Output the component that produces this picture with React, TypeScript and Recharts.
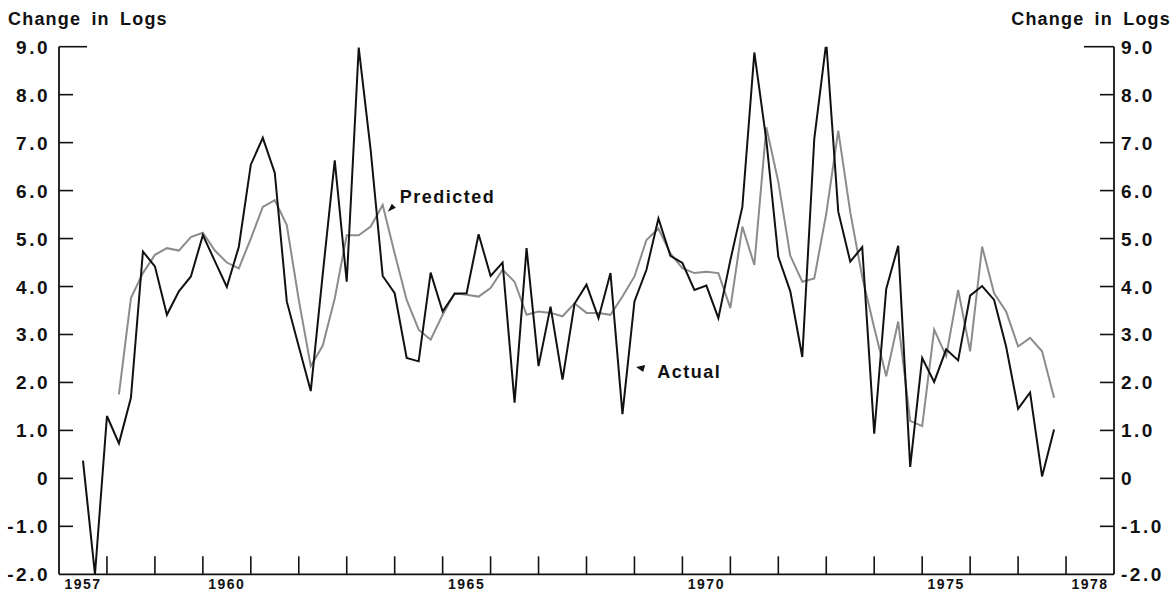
import { LineChart, Line, XAxis, YAxis, ReferenceDot } from 'recharts';

// quarterly observations, first actual point is 1957 Q3
const firstQuarter = 1957.5;
const predictedFirstQuarter = 1958.25;

const actual = [
  0.37, -2.0, 1.3, 0.73, 1.68, 4.73, 4.42, 3.41, 3.9, 4.21,
  5.07, 4.53, 3.99, 4.83, 6.54, 7.1, 6.37, 3.69, 2.75, 1.82,
  4.26, 6.63, 4.1, 8.98, 6.84, 4.22, 3.86, 2.51, 2.44, 4.29,
  3.48, 3.85, 3.86, 5.09, 4.22, 4.5, 1.58, 4.8, 2.34, 3.58,
  2.06, 3.64, 4.04, 3.34, 4.28, 1.34, 3.69, 4.35, 5.42, 4.64,
  4.49, 3.93, 4.02, 3.34, 4.55, 5.66, 8.88, 7.05, 4.62, 3.9,
  2.53, 7.08, 9.09, 5.56, 4.52, 4.82, 0.93, 3.95, 4.85, 0.24,
  2.51, 2.01, 2.69, 2.46, 3.81, 4.01, 3.72, 2.75, 1.45, 1.79,
  0.04, 1.02,
];

const predicted = [
  1.75, 3.76, 4.28, 4.66, 4.8, 4.75, 5.03, 5.12, 4.75, 4.5,
  4.38, 5.0, 5.66, 5.8, 5.28, 3.72, 2.34, 2.77, 3.75, 5.07,
  5.07, 5.25, 5.7, 4.69, 3.72, 3.1, 2.89, 3.41, 3.86, 3.83,
  3.79, 3.97, 4.35, 4.1, 3.41, 3.48, 3.45, 3.38, 3.65, 3.45,
  3.45, 3.41, 3.79, 4.21, 4.97, 5.21, 4.69, 4.38, 4.28, 4.31,
  4.28, 3.55, 5.25, 4.45, 7.32, 6.18, 4.64, 4.1, 4.17, 5.52,
  7.25, 5.55, 4.2, 3.14, 2.13, 3.27, 1.2, 1.09, 3.1, 2.55,
  3.93, 2.65, 4.83, 3.86, 3.48, 2.75, 2.93, 2.65, 1.68,
];

const yTicks = [-2, -1, 0, 1, 2, 3, 4, 5, 6, 7, 8, 9];
const yearTicks = [
  1957, 1958, 1959, 1960, 1961, 1962, 1963, 1964, 1965, 1966, 1967,
  1968, 1969, 1970, 1971, 1972, 1973, 1974, 1975, 1976, 1977, 1978,
];
const yearLabels = [1957, 1960, 1965, 1970, 1975, 1978];
const axisTitle = 'Change in Logs';

const data = actual.map((v, i) => {
  const t = firstQuarter + i * 0.25;
  const j = Math.round((t - predictedFirstQuarter) / 0.25);
  return { t, actual: v, predicted: j >= 0 && j < predicted.length ? predicted[j] : null };
});

const W = 1176;
const H = 592;
const LEFT_W = 59;
const RIGHT_W = 62;
const TOP = 46.7;
const X_H = 17.7;
const halfYear = (W - LEFT_W - RIGHT_W) / 22 / 2;
const font = '"Liberation Sans", Arial, Helvetica, sans-serif';
const ink = '#111';

const fmtY = (v: number) => (v === 0 ? '0' : v.toFixed(1));

const LeftTick = ({ x, y, payload }: any) => {
  const v = payload.value;
  return (
    <g>
      {v !== -2 && <line x1={x} x2={x + (v === 9 ? 28 : 14)} y1={y} y2={y} stroke={ink} strokeWidth={1.6} />}
      <text x={x - 9} y={y + 7} textAnchor="end" fontFamily={font} fontWeight={700} fontSize={19} letterSpacing={2.5} fill={ink}>
        {fmtY(v)}
      </text>
    </g>
  );
};

const RightTick = ({ x, y, payload }: any) => {
  const v = payload.value;
  return (
    <g>
      {v !== -2 && <line x1={x - (v === 9 ? 30 : 14)} x2={x} y1={y} y2={y} stroke={ink} strokeWidth={1.6} />}
      <text x={x + 7} y={y + 7} textAnchor="start" fontFamily={font} fontWeight={700} fontSize={19} letterSpacing={2.5} fill={ink}>
        {fmtY(v)}
      </text>
    </g>
  );
};

const YearTick = ({ x, y, payload }: any) => {
  const v = payload.value;
  return (
    <g>
      {v > 1957 && <line x1={x} x2={x} y1={y} y2={y - 18} stroke={ink} strokeWidth={1.6} />}
      {yearLabels.includes(v) && (
        <text x={x + halfYear} y={y + 15} textAnchor="middle" fontFamily={font} fontWeight={700} fontSize={14} letterSpacing={1.5} fill={ink}>
          {v}
        </text>
      )}
    </g>
  );
};

const title = (side: 'left' | 'right') => ({ viewBox }: any) => (
  <text
    x={side === 'left' ? 8 : viewBox.x + viewBox.width - 5}
    y={viewBox.y - 22}
    textAnchor={side === 'left' ? 'start' : 'end'}
    fontFamily={font}
    fontWeight={700}
    fontSize={18}
    letterSpacing={1.2}
    wordSpacing={4}
    fill={ink}
  >
    {axisTitle}
  </text>
);

const PredictedNote = ({ cx, cy }: any) => (
  <g>
    <polygon points={`${cx - 4},${cy + 4} ${cx + 4},${cy} ${cx},${cy - 4}`} fill={ink} />
    <text x={cx + 8} y={cy - 5} fontFamily={font} fontWeight={700} fontSize={18} letterSpacing={1.5} fill={ink}>
      Predicted
    </text>
  </g>
);

const ActualNote = ({ cx, cy }: any) => (
  <g>
    <polygon points={`${cx - 5},${cy - 2} ${cx + 4},${cy - 4} ${cx + 2},${cy + 3}`} fill={ink} />
    <text x={cx + 16} y={cy + 9} fontFamily={font} fontWeight={700} fontSize={18} letterSpacing={1.5} fill={ink}>
      Actual
    </text>
  </g>
);

export default function App() {
  return (
    <div style={{ position: 'absolute', left: 0, top: 0, width: W, height: H, background: '#fff' }}>
      <LineChart width={W} height={H} data={data} margin={{ top: TOP, right: 0, bottom: 0, left: 0 }}>
        <XAxis
          dataKey="t"
          type="number"
          domain={[1957, 1979]}
          ticks={yearTicks}
          interval={0}
          height={X_H}
          tickSize={0}
          tickMargin={0}
          tickLine={false}
          axisLine={{ stroke: ink, strokeWidth: 1.8 }}
          tick={<YearTick />}
        />
        <YAxis
          yAxisId="left"
          orientation="left"
          type="number"
          domain={[-2, 9]}
          ticks={yTicks}
          interval={0}
          allowDataOverflow
          width={LEFT_W}
          tickSize={0}
          tickMargin={0}
          tickLine={false}
          axisLine={{ stroke: ink, strokeWidth: 1.8 }}
          tick={<LeftTick />}
          label={{ content: title('left') }}
        />
        <YAxis
          yAxisId="right"
          orientation="right"
          type="number"
          domain={[-2, 9]}
          ticks={yTicks}
          interval={0}
          allowDataOverflow
          width={RIGHT_W}
          tickSize={0}
          tickMargin={0}
          tickLine={false}
          axisLine={{ stroke: ink, strokeWidth: 1.8 }}
          tick={<RightTick />}
          label={{ content: title('right') }}
        />
        <Line
          yAxisId="left"
          type="linear"
          dataKey="predicted"
          stroke="#8c8c8c"
          strokeWidth={2}
          dot={false}
          activeDot={false}
          isAnimationActive={false}
        />
        <Line
          yAxisId="left"
          type="linear"
          dataKey="actual"
          stroke={ink}
          strokeWidth={2}
          dot={false}
          activeDot={false}
          isAnimationActive={false}
        />
        <ReferenceDot yAxisId="left" x={1963.94} y={5.64} r={0} shape={<PredictedNote />} />
        <ReferenceDot yAxisId="left" x={1969.14} y={2.28} r={0} shape={<ActualNote />} />
      </LineChart>
    </div>
  );
}
